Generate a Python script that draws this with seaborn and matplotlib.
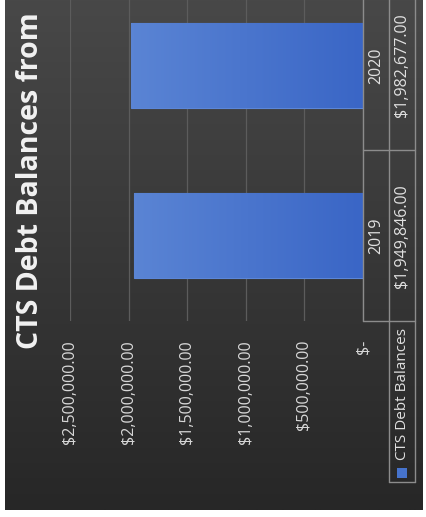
import numpy as np
import pandas as pd
import matplotlib
matplotlib.use("Agg")
import matplotlib.pyplot as plt
from matplotlib.lines import Line2D
from matplotlib.patches import Rectangle
from matplotlib.colors import LinearSegmentedColormap
import seaborn as sns

# ---- data ----
years = ["2019", "2020"]
balances = [1949846.00, 1982677.00]
value_labels = ["$1,949,846.00", "$1,982,677.00"]
tick_values = [0, 500000, 1000000, 1500000, 2000000, 2500000]
tick_labels = ["$-", "$500,000.00", "$1,000,000.00", "$1,500,000.00",
               "$2,000,000.00", "$2,500,000.00"]
series_name = "CTS Debt Balances"
title_text = "CTS Debt Balances from"

W, H = 426, 517
sns.set_style("white")
plt.rcParams["font.family"] = ["Open Sans", "DejaVu Sans"]

fig = plt.figure(figsize=(W / 100, H / 100), dpi=100, facecolor="white")


def fx(x):
    return x / W


def fy(y):
    return 1 - y / H


# background panel with vertical gradient
bg = fig.add_axes([fx(5), fy(510), fx(423) - fx(5), fy(0) - fy(510)])
grad = np.linspace(0, 1, 256).reshape(256, 1, 1)
top = np.array([0x48, 0x48, 0x48]).reshape(1, 1, 3) / 255
bot = np.array([0x27, 0x27, 0x27]).reshape(1, 1, 3) / 255
img = top + (bot - top) * grad
bg.imshow(img, aspect="auto", extent=[0, 1, 0, 1], origin="upper")
bg.set_axis_off()

# main plot area (rotated chart: value axis horizontal, zero on the right)
left, right = 70, 363
top_px, bot_px = -20, 321
ax = fig.add_axes([fx(left), fy(bot_px), fx(right) - fx(left), fy(top_px) - fy(bot_px)])
ax.patch.set_alpha(0)

df = pd.DataFrame({"year": years, "balance": balances})
sns.barplot(data=df, x="balance", y="year", order=["2020", "2019"], orient="h",
            color="#4673cc", width=0.5, errorbar=None, ax=ax, saturation=1,
            edgecolor="#5b86d8", linewidth=0.8)

ax.set_xlim(2500000, 0)
ax.set_ylim(1.5, -0.5)

# subtle gradient shading clipped to each seaborn bar
bar_cmap = LinearSegmentedColormap.from_list("bar", ["#5a84d4", "#3a66c6"])
for p in list(ax.patches):
    x0, y0 = p.get_x(), p.get_y()
    w, h = p.get_width(), p.get_height()
    im = ax.imshow(np.linspace(0, 1, 64).reshape(1, -1), cmap=bar_cmap,
                   aspect="auto", extent=[x0 + w, x0, y0 + h, y0],
                   interpolation="bilinear", zorder=p.get_zorder() + 0.1)
    im.set_clip_path(p)
ax.set_xlim(2500000, 0)
ax.set_ylim(1.5, -0.5)

ax.set_xticks(tick_values)
ax.set_xticklabels(tick_labels, rotation=90, va="top", ha="center",
                   color="#d8d8d8", fontsize=11.5)
ax.tick_params(axis="x", length=0, pad=13.5)
ax.set_yticks([])
ax.set_xlabel("")
ax.set_ylabel("")
for s in ax.spines.values():
    s.set_visible(False)
ax.grid(axis="x", color="#5c5c5c", linewidth=0.9)
ax.set_axisbelow(True)

# ---- data table (rotated) ----
line_kw = dict(color="#8c8c8c", linewidth=1.0, transform=fig.transFigure)


def seg(x0, y0, x1, y1):
    fig.add_artist(Line2D([fx(x0), fx(x1)], [fy(y0), fy(y1)], **line_kw))


seg(363, -5, 363, 321)
seg(389, -5, 389, 482)
seg(415, -5, 415, 482)
seg(363, 150, 415, 150)
seg(363, 321, 415, 321)
seg(389, 482, 415, 482)

txt_kw = dict(rotation=90, ha="center", va="center", color="#e0e0e0",
              fontsize=11.5)
for yr, lab, ycat in zip(years, value_labels, [1, 0]):
    _, yd = ax.transData.transform((0, ycat))
    yfig = fig.transFigure.inverted().transform((0, yd))[1]
    fig.text(fx(376.5), yfig, yr, **txt_kw)
    fig.text(fx(402), yfig, lab, **txt_kw)

# legend key inside the table header cell
fig.add_artist(Rectangle((fx(397), fy(478)), fx(10), 10 / H,
                         transform=fig.transFigure, facecolor="#4673cc",
                         edgecolor="none"))
fig.text(fx(402.5), fy(328), series_name, rotation=90, ha="center", va="top",
         color="#e0e0e0", fontsize=11)

# ---- title ----
fig.text(fx(31), fy(349), title_text, rotation=90, ha="center", va="bottom",
         color="#f2f2f2", fontsize=20.5, fontweight="bold")

fig.savefig("out.png", dpi=100, facecolor="white")
